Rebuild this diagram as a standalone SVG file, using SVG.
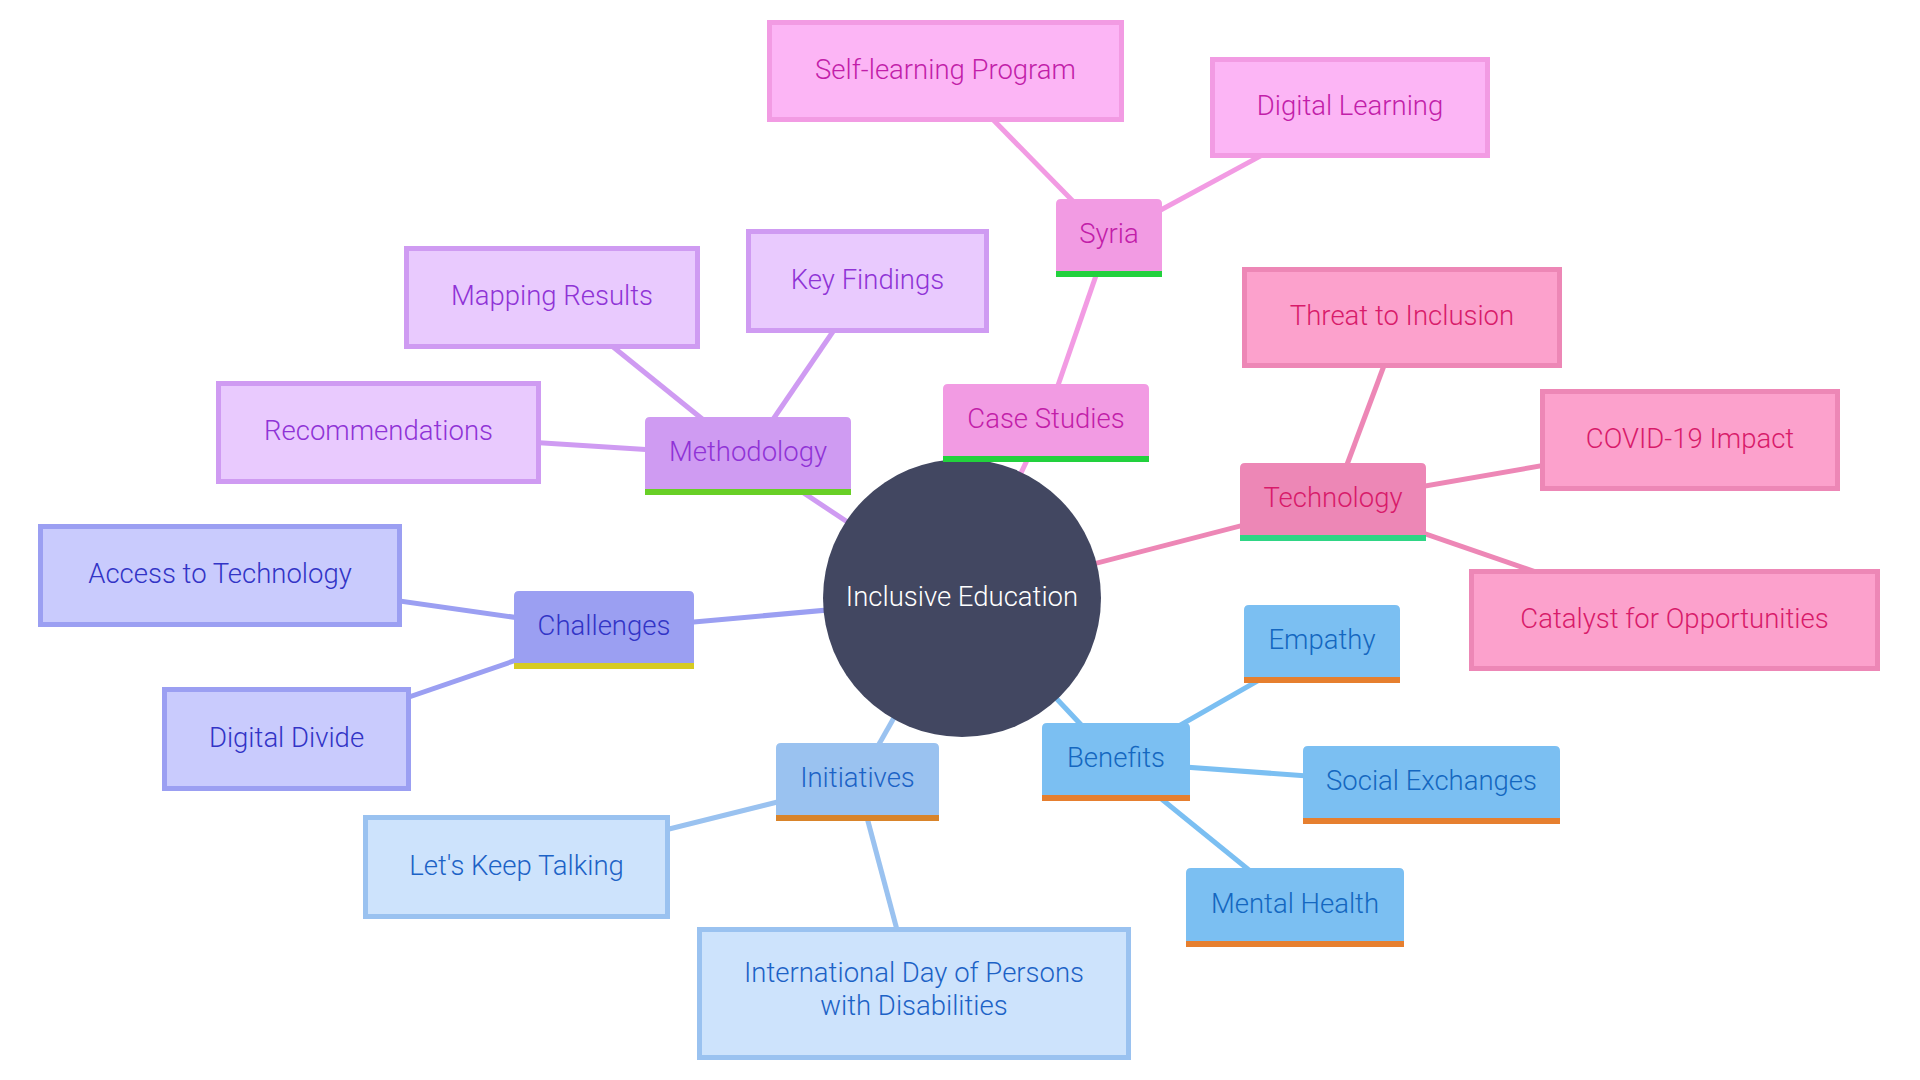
<svg xmlns="http://www.w3.org/2000/svg" width="1920" height="1080" viewBox="0 0 1920 1080">
<style>
text{font-family:Roboto,"Liberation Sans",sans-serif;font-size:27.5px;font-weight:300;text-anchor:middle}
.e{stroke-width:5;fill:none;stroke-linecap:butt}
.leaf{stroke-width:5}
.cs-b{fill:#f29be3}.cs-l{fill:#fcb5f5;stroke:#f29be3}.cs-t{fill:#c21ea9}.cs-e{stroke:#f29be3}
.tc-b{fill:#ed87b6}.tc-l{fill:#fca1cc;stroke:#ed87b6}.tc-t{fill:#d81b6a}.tc-e{stroke:#ed87b6}
.me-b{fill:#cf9bf2}.me-l{fill:#e9cafe;stroke:#cf9bf2}.me-t{fill:#8f33d6}.me-e{stroke:#cf9bf2}
.ch-b{fill:#9b9ff2}.ch-l{fill:#c9cbfd;stroke:#9b9ff2}.ch-t{fill:#3234c6}.ch-e{stroke:#9b9ff2}
.in-b{fill:#9ac2f0}.in-l{fill:#cde3fc;stroke:#9ac2f0}.in-t{fill:#1c62c6}.in-e{stroke:#9ac2f0}
.be-b{fill:#7bbff2}.be-t{fill:#1467c0}.be-e{stroke:#7bbff2}
.bar-g{fill:#22d13d}.bar-t{fill:#2fd585}.bar-l{fill:#68cf26}.bar-y{fill:#d6cb22}.bar-o{fill:#d9842a}.bar-b{fill:#e67f2f}
</style>
<rect width="1920" height="1080" fill="#ffffff"/>
<g id="connectors">
<line class="e cs-e" x1="962" y1="598" x2="1046" y2="420"/>
<line class="e cs-e" x1="1046" y1="420" x2="1109" y2="238"/>
<line class="e cs-e" x1="1109" y1="238" x2="945.5" y2="71"/>
<line class="e cs-e" x1="1109" y1="238" x2="1350" y2="107.5"/>
<line class="e tc-e" x1="962" y1="598" x2="1333" y2="502"/>
<line class="e tc-e" x1="1333" y1="502" x2="1402" y2="317.5"/>
<line class="e tc-e" x1="1333" y1="502" x2="1690" y2="440"/>
<line class="e tc-e" x1="1333" y1="502" x2="1674.5" y2="620"/>
<line class="e me-e" x1="962" y1="598" x2="748" y2="456"/>
<line class="e me-e" x1="748" y1="456" x2="552" y2="297.5"/>
<line class="e me-e" x1="748" y1="456" x2="867.5" y2="281"/>
<line class="e me-e" x1="748" y1="456" x2="378.5" y2="432.5"/>
<line class="e ch-e" x1="962" y1="598" x2="604" y2="630"/>
<line class="e ch-e" x1="604" y1="630" x2="220" y2="575.5"/>
<line class="e ch-e" x1="604" y1="630" x2="286.5" y2="739"/>
<line class="e in-e" x1="962" y1="598" x2="857.5" y2="782"/>
<line class="e in-e" x1="857.5" y1="782" x2="516.5" y2="867"/>
<line class="e in-e" x1="857.5" y1="782" x2="914" y2="993.5"/>
<line class="e be-e" x1="962" y1="598" x2="1116" y2="762"/>
<line class="e be-e" x1="1116" y1="762" x2="1322" y2="644"/>
<line class="e be-e" x1="1116" y1="762" x2="1431.5" y2="785"/>
<line class="e be-e" x1="1116" y1="762" x2="1295" y2="907.5"/>
</g>
<g id="node-root">
<circle cx="962" cy="598" r="139" fill="#424761"/>
<text x="962" y="606" fill="#ffffff">Inclusive Education</text>
</g>
<g id="node-case-studies">
<path class="cs-b" d="M943,456V389Q943,384 948,384H1144Q1149,384 1149,389V456Z"/>
<rect class="bar-g" x="943" y="456" width="206" height="6"/>
<text class="cs-t" x="1046" y="428">Case Studies</text>
</g>
<g id="node-syria">
<path class="cs-b" d="M1056,271V204Q1056,199 1061,199H1157Q1162,199 1162,204V271Z"/>
<rect class="bar-g" x="1056" y="271" width="106" height="6"/>
<text class="cs-t" x="1109" y="243">Syria</text>
</g>
<g id="node-self-learning">
<rect class="leaf cs-l" x="769.5" y="22.5" width="352" height="97"/>
<text class="cs-t" x="945.5" y="79">Self-learning Program</text>
</g>
<g id="node-digital-learning">
<rect class="leaf cs-l" x="1212.5" y="59.5" width="275" height="96"/>
<text class="cs-t" x="1350" y="115">Digital Learning</text>
</g>
<g id="node-technology">
<path class="tc-b" d="M1240,535V468Q1240,463 1245,463H1421Q1426,463 1426,468V535Z"/>
<rect class="bar-t" x="1240" y="535" width="186" height="6"/>
<text class="tc-t" x="1333" y="507">Technology</text>
</g>
<g id="node-threat">
<rect class="leaf tc-l" x="1244.5" y="269.5" width="315" height="96"/>
<text class="tc-t" x="1402" y="325">Threat to Inclusion</text>
</g>
<g id="node-covid">
<rect class="leaf tc-l" x="1542.5" y="391.5" width="295" height="97"/>
<text class="tc-t" x="1690" y="447.5">COVID-19 Impact</text>
</g>
<g id="node-catalyst">
<rect class="leaf tc-l" x="1471.5" y="571.5" width="406" height="97"/>
<text class="tc-t" x="1674.5" y="627.5">Catalyst for Opportunities</text>
</g>
<g id="node-methodology">
<path class="me-b" d="M645,489V422Q645,417 650,417H846Q851,417 851,422V489Z"/>
<rect class="bar-l" x="645" y="489" width="206" height="6"/>
<text class="me-t" x="748" y="461">Methodology</text>
</g>
<g id="node-mapping">
<rect class="leaf me-l" x="406.5" y="248.5" width="291" height="98"/>
<text class="me-t" x="552" y="305">Mapping Results</text>
</g>
<g id="node-key-findings">
<rect class="leaf me-l" x="748.5" y="231.5" width="238" height="99"/>
<text class="me-t" x="867.5" y="288.5">Key Findings</text>
</g>
<g id="node-recommendations">
<rect class="leaf me-l" x="218.5" y="383.5" width="320" height="98"/>
<text class="me-t" x="378.5" y="440">Recommendations</text>
</g>
<g id="node-challenges">
<path class="ch-b" d="M514,663V596Q514,591 519,591H689Q694,591 694,596V663Z"/>
<rect class="bar-y" x="514" y="663" width="180" height="6"/>
<text class="ch-t" x="604" y="635">Challenges</text>
</g>
<g id="node-access">
<rect class="leaf ch-l" x="40.5" y="526.5" width="359" height="98"/>
<text class="ch-t" x="220" y="583">Access to Technology</text>
</g>
<g id="node-digital-divide">
<rect class="leaf ch-l" x="164.5" y="689.5" width="244" height="99"/>
<text class="ch-t" x="286.5" y="746.5">Digital Divide</text>
</g>
<g id="node-initiatives">
<path class="in-b" d="M776,815V748Q776,743 781,743H934Q939,743 939,748V815Z"/>
<rect class="bar-o" x="776" y="815" width="163" height="6"/>
<text class="in-t" x="857.5" y="787">Initiatives</text>
</g>
<g id="node-lets-keep-talking">
<rect class="leaf in-l" x="365.5" y="817.5" width="302" height="99"/>
<text class="in-t" x="516.5" y="874.5">Let's Keep Talking</text>
</g>
<g id="node-intl-day">
<rect class="leaf in-l" x="699.5" y="929.5" width="429" height="128"/>
<text class="in-t" x="914" y="982"><tspan x="914">International Day of Persons</tspan><tspan x="914" dy="32.5">with Disabilities</tspan></text>
</g>
<g id="node-benefits">
<path class="be-b" d="M1042,795V728Q1042,723 1047,723H1185Q1190,723 1190,728V795Z"/>
<rect class="bar-b" x="1042" y="795" width="148" height="6"/>
<text class="be-t" x="1116" y="767">Benefits</text>
</g>
<g id="node-empathy">
<path class="be-b" d="M1244,677V610Q1244,605 1249,605H1395Q1400,605 1400,610V677Z"/>
<rect class="bar-b" x="1244" y="677" width="156" height="6"/>
<text class="be-t" x="1322" y="649">Empathy</text>
</g>
<g id="node-social">
<path class="be-b" d="M1303,818V751Q1303,746 1308,746H1555Q1560,746 1560,751V818Z"/>
<rect class="bar-b" x="1303" y="818" width="257" height="6"/>
<text class="be-t" x="1431.5" y="790">Social Exchanges</text>
</g>
<g id="node-mental">
<path class="be-b" d="M1186,941V873Q1186,868 1191,868H1399Q1404,868 1404,873V941Z"/>
<rect class="bar-b" x="1186" y="941" width="218" height="6"/>
<text class="be-t" x="1295" y="912.5">Mental Health</text>
</g>
</svg>
